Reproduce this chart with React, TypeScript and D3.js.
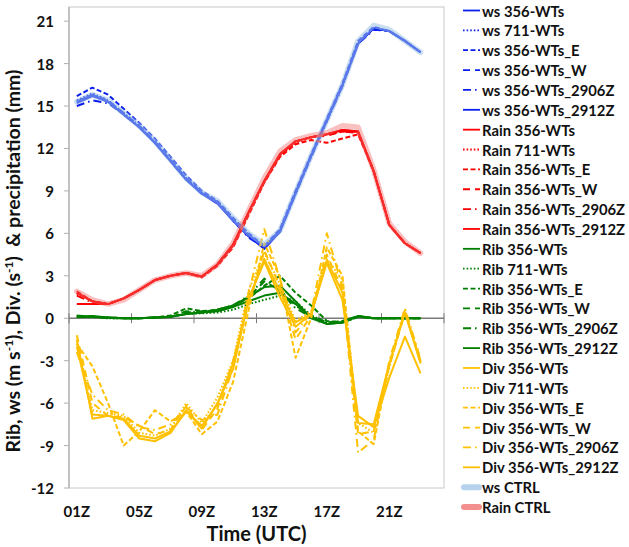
import React from 'react';
import * as d3 from 'd3';

const categories = ['01Z','02Z','03Z','04Z','05Z','06Z','07Z','08Z','09Z','10Z','11Z','12Z','13Z','14Z','15Z','16Z','17Z','18Z','19Z','20Z','21Z','22Z','23Z','24Z'];
const xTickLabels = ['01Z','05Z','09Z','13Z','17Z','21Z'];
const yTicks = [-12,-9,-6,-3,0,3,6,9,12,15,18,21];

// wind speed
const ws356 = [15.3,15.8,15.3,14.4,13.5,12.4,11.1,9.8,8.8,8.2,6.9,5.8,5.0,6.2,8.9,11.5,14.0,16.5,19.4,20.5,20.3,19.6,18.8];
const ws711 = [15.4,15.9,15.4,14.5,13.6,12.4,11.2,9.9,8.9,8.2,7.0,5.9,5.1,6.2,8.8,11.4,13.9,16.4,19.5,20.5,20.3,19.6,18.8];
const wsE = [15.7,16.3,15.8,14.8,13.8,12.7,11.4,10.1,9.0,8.3,7.1,6.0,5.1,6.3,9.0,11.6,14.1,16.6,19.6,20.6,20.3,19.6,18.8];
const wsW = [15.3,15.8,15.4,14.5,13.6,12.5,11.2,9.9,8.9,8.2,7.0,5.9,5.0,6.2,8.9,11.5,14.0,16.5,19.5,20.5,20.3,19.6,18.8];
const ws2906 = [15.0,15.4,15.2,14.4,13.5,12.4,11.1,9.8,8.8,8.2,6.9,5.7,5.0,6.1,8.8,11.4,13.9,16.4,19.4,20.4,20.3,19.6,18.8];
const ws2912 = [15.2,15.7,15.3,14.4,13.5,12.4,11.1,9.8,8.8,8.1,6.9,5.8,4.9,6.1,8.8,11.5,14.0,16.5,19.4,20.5,20.3,19.6,18.8];
const wsCTRL = [15.3,15.8,15.4,14.5,13.6,12.5,11.2,9.9,8.9,8.3,7.1,6.0,5.2,6.2,8.9,11.5,14.0,16.5,19.6,20.7,20.4,19.6,18.8];

// rain
const rain356 = [1.8,1.2,1.0,1.4,2.0,2.7,3.0,3.2,2.95,3.8,5.2,7.5,9.7,11.6,12.5,12.8,13.0,13.3,13.2,10.4,6.6,5.3,4.6];
const rain711 = [1.7,1.2,1.0,1.4,2.0,2.7,3.0,3.2,2.9,3.8,5.1,7.4,9.6,11.5,12.4,12.8,13.0,13.2,13.2,10.4,6.6,5.3,4.6];
const rainE = [1.9,1.2,1.0,1.4,2.0,2.7,3.0,3.2,2.9,3.7,5.0,7.3,9.6,11.4,12.3,12.6,12.4,12.7,13.0,10.4,6.6,5.3,4.6];
const rainW = [1.8,1.2,1.0,1.4,2.0,2.7,3.0,3.2,2.95,3.8,5.2,7.5,9.7,11.6,12.5,12.8,12.9,13.2,13.2,10.4,6.6,5.3,4.6];
const rain2906 = [1.6,1.1,1.0,1.4,2.0,2.7,3.0,3.2,2.95,3.8,5.2,7.5,9.7,11.6,12.5,12.8,13.0,13.2,13.1,10.4,6.6,5.3,4.6];
const rain2912 = [1.0,1.0,1.0,1.4,2.0,2.7,3.0,3.2,2.95,3.8,5.2,7.5,9.7,11.6,12.5,12.8,13.0,13.3,13.2,10.4,6.6,5.3,4.6];
const rainCTRL = [1.9,1.3,1.0,1.3,2.0,2.7,3.0,3.2,3.0,3.8,5.3,7.6,9.9,11.8,12.6,12.9,13.1,13.6,13.5,10.5,6.7,5.4,4.6];

// Richardson bulk number
const rib356 = [0.1,0.1,0.05,0.0,0.0,0.05,0.1,0.3,0.4,0.5,0.8,1.2,1.6,1.8,1.0,0.1,-0.4,-0.3,0.15,0.0,0.0,0.0,0.0];
const rib711 = [0.1,0.1,0.0,0.0,0.0,0.05,0.1,0.3,0.35,0.4,0.6,1.0,1.3,1.6,1.2,0.2,-0.3,-0.3,0.1,0.0,0.0,0.0,0.0];
const ribE = [0.15,0.1,0.05,0.0,0.0,0.05,0.2,0.7,0.5,0.6,0.9,1.4,2.3,3.0,1.8,0.9,-0.2,-0.3,0.1,0.0,0.0,0.0,0.0];
const ribW = [0.1,0.1,0.0,0.0,0.0,0.05,0.1,0.4,0.5,0.5,0.8,1.5,2.6,2.0,0.9,0.2,-0.3,-0.2,0.1,0.0,0.0,0.0,0.0];
const rib2906 = [0.2,0.1,0.05,0.0,0.0,0.05,0.1,0.5,0.4,0.6,0.9,1.6,2.8,1.9,0.7,0.1,-0.3,-0.2,0.15,0.0,0.0,0.0,0.0];
const rib2912 = [0.1,0.15,0.05,0.0,0.0,0.05,0.1,0.3,0.4,0.6,0.9,1.5,2.2,2.3,1.2,0.0,-0.4,-0.3,0.15,0.0,0.0,0.0,0.0];

// divergence
const div356 = [-1.5,-7.1,-6.9,-7.2,-8.5,-8.7,-8.1,-6.5,-7.8,-6.0,-3.6,1.4,4.0,1.5,-0.6,0.3,3.9,1.3,-6.9,-7.7,-4.2,-1.3,-3.9];
const div711 = [-1.8,-6.5,-6.7,-6.9,-8.1,-8.3,-7.8,-6.0,-7.4,-5.6,-3.0,2.0,4.6,2.4,-0.2,0.5,4.2,2.7,-7.4,-8.1,-3.5,0.6,-3.1];
const divE = [-1.8,-3.4,-6.0,-9.0,-8.0,-6.5,-7.3,-6.6,-8.2,-7.3,-4.5,0.6,5.3,2.9,-2.8,0.0,5.0,3.0,-8.0,-8.9,-3.2,0.5,-3.0];
const divW = [-1.2,-6.0,-6.9,-7.0,-7.6,-8.2,-7.9,-6.2,-7.9,-6.4,-3.0,1.0,4.8,2.2,-1.5,0.2,4.5,2.0,-8.2,-8.0,-3.4,0.4,-3.1];
const div2906 = [-2.4,-5.4,-6.5,-6.8,-7.7,-7.9,-7.5,-6.3,-7.2,-6.8,-3.5,1.8,6.3,2.8,-1.0,0.4,6.0,2.2,-9.5,-8.6,-3.0,0.7,-2.9];
const div2912 = [-2.0,-6.8,-6.9,-7.1,-8.3,-8.5,-8.0,-6.6,-7.6,-6.1,-3.2,1.3,4.2,1.9,-0.3,0.3,4.1,1.8,-7.4,-7.5,-3.2,0.4,-3.2];

const variantNames = ['356-WTs','711-WTs','356-WTs_E','356-WTs_W','356-WTs_2906Z','356-WTs_2912Z'];
const dashes = ['none','1.6 2','5 2.5','7 5','8 4 1.6 4','none'];

const groups = [
  { prefix: 'ws', color: '#0a1ef0', data: [ws356, ws711, wsE, wsW, ws2906, ws2912] },
  { prefix: 'Rain', color: '#ff0000', data: [rain356, rain711, rainE, rainW, rain2906, rain2912] },
  { prefix: 'Rib', color: '#008000', data: [rib356, rib711, ribE, ribW, rib2906, rib2912] },
  { prefix: 'Div', color: '#ffc000', data: [div356, div711, divE, divW, div2906, div2912] },
];
const ctrl = [
  { name: 'ws CTRL', color: '#9dc3e6', opacity: 0.55, data: wsCTRL },
  { name: 'Rain CTRL', color: '#f06a6a', opacity: 0.42, data: rainCTRL },
];

const W = 629, H = 547;
const left = 69, right = 444, top = 7, bottom = 488;
const FONT = 'Lato, "Open Sans", "Liberation Sans", sans-serif';

export default function App() {
  const x = d3.scaleBand<string>().domain(categories).range([left, right]).padding(0);
  const bw = x.bandwidth();
  const y = d3.scaleLinear().domain([-12, 22]).range([bottom, top]);
  const cx = (i: number) => (x(categories[i]) as number) + bw / 2;
  const line = d3.line<number>().x((_, i) => cx(i)).y(d => y(d));

  const series: { name: string; color: string; dash: string; data: number[] }[] = [];
  groups.forEach(g => g.data.forEach((d, k) => series.push({ name: `${g.prefix} ${variantNames[k]}`, color: g.color, dash: dashes[k], data: d })));

  const y0 = y(0);
  const xTickPos = d3.range(0, categories.length + 1, 4).map(k => left + k * bw);
  const legendY = (i: number) => 10.5 + i * 19.86;

  return (
    <svg width={W} height={H} style={{ position: 'absolute', left: 0, top: 0, background: '#fff' }} fontFamily={FONT}>
      <rect x={0} y={0} width={W} height={H} fill="#fff" />
      {/* plot frame */}
      <rect x={left} y={top} width={right - left} height={bottom - top} fill="none" stroke="#c8c8c8" strokeWidth={1} />
      {/* y axis */}
      <line x1={left} x2={left} y1={top} y2={bottom} stroke="#b0b0b0" strokeWidth={1.3} />
      {yTicks.map(t => (
        <g key={t}>
          <line x1={left - 5} x2={left} y1={y(t)} y2={y(t)} stroke="#b0b0b0" strokeWidth={1} />
          <text x={54} y={y(t)} textAnchor="end" dominantBaseline="central" fontSize={15} fontWeight={700} fill="#111">{t}</text>
        </g>
      ))}
      {/* x axis at zero */}
      <line x1={left} x2={right} y1={y0} y2={y0} stroke="#7a7a7a" strokeWidth={1.3} />
      {xTickPos.map((p, i) => (
        <line key={i} x1={p} x2={p} y1={y0 - 5} y2={y0 + 5} stroke="#7a7a7a" strokeWidth={1} />
      ))}
      {xTickLabels.map(l => (
        <text key={l} x={cx(categories.indexOf(l))} y={511} textAnchor="middle" dominantBaseline="central" fontSize={15} fontWeight={700} fill="#111">{l}</text>
      ))}
      {/* series */}
      {series.map(s => (
        <path key={s.name} d={line(s.data) || ''} fill="none" stroke={s.color} strokeWidth={2} strokeDasharray={s.dash} strokeLinejoin="round" />
      ))}
      {ctrl.map(s => (
        <path key={s.name} d={line(s.data) || ''} fill="none" stroke={s.color} strokeWidth={5.5} strokeOpacity={s.opacity} strokeLinejoin="round" strokeLinecap="round" />
      ))}
      {/* axis titles */}
      <text x={256.5} y={533} textAnchor="middle" dominantBaseline="central" fontSize={20} fontWeight={700} fill="#111">Time (UTC)</text>
      <text transform="translate(20,261) rotate(-90)" textAnchor="middle" fontSize={19.5} fontWeight={700} fill="#111" style={{ whiteSpace: 'pre' }}>
        <tspan>Rib, ws (m s</tspan>
        <tspan baselineShift="super" fontSize={12}>-1</tspan>
        <tspan>), Div. (s</tspan>
        <tspan baselineShift="super" fontSize={12}>-1</tspan>
        <tspan>)  &amp; precipitation (mm)</tspan>
      </text>
      {/* legend */}
      {series.map((s, i) => (
        <g key={s.name}>
          <line x1={463} x2={480} y1={legendY(i)} y2={legendY(i)} stroke={s.color} strokeWidth={1.8} strokeDasharray={s.dash} />
          <text x={482} y={legendY(i)} dominantBaseline="central" fontSize={14.8} fontWeight={700} fill="#111">{s.name}</text>
        </g>
      ))}
      {ctrl.map((s, k) => {
        const i = series.length + k;
        return (
          <g key={s.name}>
            <line x1={464} x2={479} y1={legendY(i)} y2={legendY(i)} stroke={s.color} strokeWidth={6} strokeOpacity={0.75} strokeLinecap="round" />
            <text x={482} y={legendY(i)} dominantBaseline="central" fontSize={14.8} fontWeight={700} fill="#111">{s.name}</text>
          </g>
        );
      })}
    </svg>
  );
}
